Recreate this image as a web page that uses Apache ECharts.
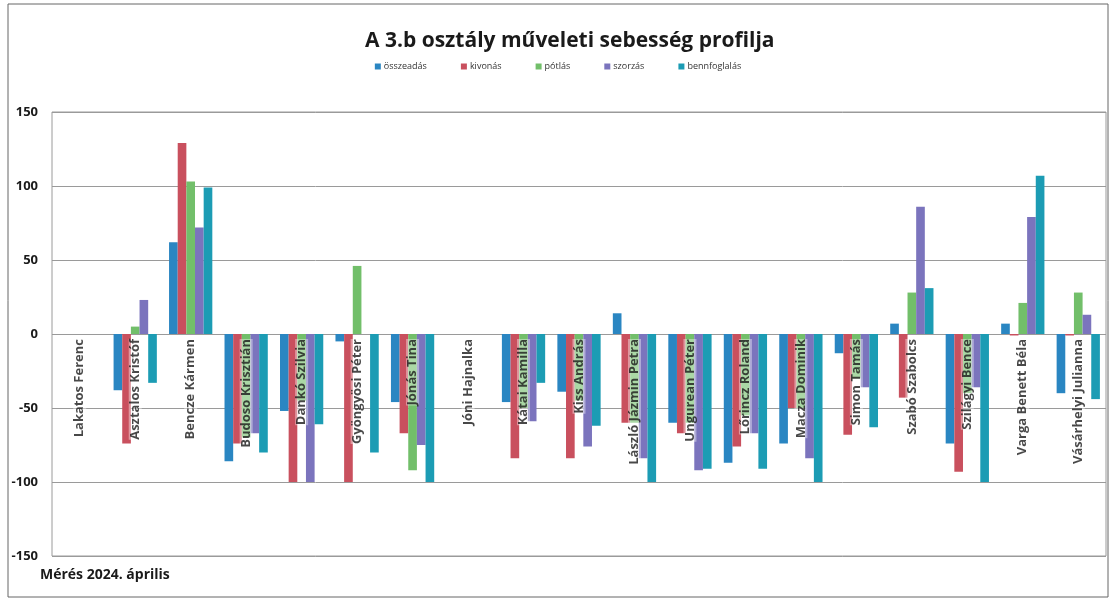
<!DOCTYPE html>
<html>
<head>
<meta charset="utf-8">
<script src="https://cdn.jsdelivr.net/npm/echarts@6/dist/echarts.min.js"></script>
<style>html,body{margin:0;padding:0;background:#fff}#c{width:1116px;height:601px}</style>
</head>
<body>
<div id="c"></div>
<script>
const categories = ['Lakatos Ferenc','Asztalos Kristóf','Bencze Kármen','Budoso Krisztián','Dankó Szilvia','Gyöngyösi Péter','Jónás Tina','Jóni Hajnalka','Kátai Kamilla','Kiss András','László Jázmin Petra','Ungurean Péter','Lőrincz Roland','Macza Dominik','Simon Tamás','Szabó Szabolcs','Szilágyi Bence','Varga Benett Béla','Vásárhelyi Julianna'];
const seriesNames = ['összeadás','kivonás','pótlás','szorzás','bennfoglalás'];
const osszeadas    = [0, -38, 62, -86, -52, -5, -46, 0, -46, -39, 14, -60, -87, -74, -13, 7, -74, 7, -40];
const kivonas      = [0, -74, 129, -74, -100, -100, -67, 0, -84, -84, -60, -67, -76, -50, -68, -43, -93, -1, -1];
const potlas       = [0, 5, 103, -70, -45, 46, -92, 0, -50, -45, -60, -60, -55, -50, -30, 28, -40, 21, 28];
const szorzas      = [0, 23, 72, -67, -100, 0, -75, 0, -59, -76, -84, -92, -67, -84, -36, 86, -36, 79, 13];
const bennfoglalas = [0, -33, 99, -80, -61, -80, -100, 0, -33, -62, -100, -91, -91, -100, -63, 31, -100, 107, -44];
const yTicks = [-150, -100, -50, 0, 50, 100, 150];

const colors = ['#2a86c2', '#c9505e', '#72bf6a', '#7b74bd', '#1c9cb4'];
const values = [osszeadas, kivonas, potlas, szorzas, bennfoglalas];

const chart = echarts.init(document.getElementById('c'));
const barSeries = seriesNames.map((n, i) => ({
  name: n, type: 'bar', data: values[i], z: 2,
  barGap: '0%', barCategoryGap: '22%'
}));
// category names drawn at the zero line, reading upward
const nameSeries = {
  name: 'names', type: 'scatter', z: 5, silent: true,
  symbolSize: 0,
  data: categories.map(c => [c, 0]),
  label: {
    show: true, position: 'bottom', distance: 5, rotate: 90,
    align: 'right', verticalAlign: 'middle',
    formatter: p => p.data[0],
    fontFamily: 'Open Sans', fontWeight: 'bold', fontSize: 13, color: '#1a1a1a',
    backgroundColor: 'rgba(255,255,255,0.5)'
  }
};

chart.setOption({
  animation: false,
  backgroundColor: '#fff',
  color: colors,
  title: {
    text: 'A 3.b osztály műveleti sebesség profilja',
    left: 360, top: 26,
    textStyle: { fontFamily: 'Open Sans', fontWeight: 'bold', fontSize: 21, color: '#1a1a1a' }
  },
  legend: {
    top: 57, left: 'center',
    itemWidth: 6, itemHeight: 6, itemGap: 34,
    icon: 'rect',
    textStyle: { fontFamily: 'Open Sans', fontSize: 9, color: '#333', padding: [0,0,0,-2] },
    data: seriesNames
  },
  graphic: [
    { type: 'rect', shape: { x: 8, y: 4, width: 1100, height: 593 }, style: { fill: 'none', stroke: '#666', lineWidth: 1 }, silent: true },
    { type: 'text', left: 40, top: 568, style: { text: 'Mérés 2024. április', font: 'bold 14px "Open Sans"', fill: '#1a1a1a' } }
  ],
  grid: { left: 52, right: 10, top: 112, bottom: 45, show: true, borderColor: '#9a9a9a', borderWidth: 1, containLabel: false, outerBoundsMode: 'none' },
  xAxis: {
    type: 'category',
    data: categories,
    axisLine: { show: false },
    axisTick: { show: false },
    axisLabel: { show: false }
  },
  yAxis: {
    type: 'value', min: yTicks[0], max: yTicks[yTicks.length - 1], interval: 50,
    axisLine: { show: false },
    axisTick: { show: false },
    axisLabel: { fontFamily: 'Open Sans', fontWeight: 'bold', fontSize: 13, color: '#1a1a1a', margin: 14 },
    splitLine: { lineStyle: { color: '#9a9a9a' } }
  },
  series: barSeries.concat([nameSeries])
});
</script>
</body>
</html>
